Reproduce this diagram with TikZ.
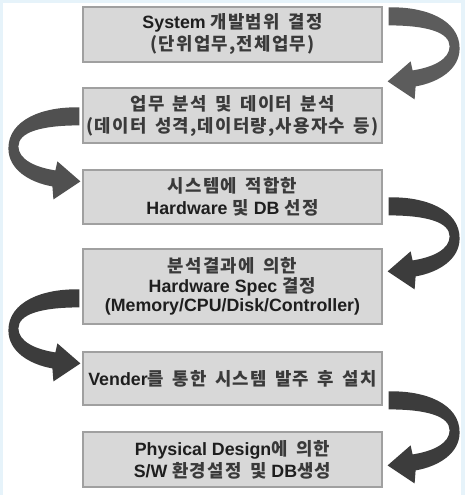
\documentclass[tikz,border=0pt]{standalone}
\usepackage{fontspec}
\setmainfont{Liberation Sans}
\newfontfamily\kr[WordSpace=1.6,LetterSpace=7]{Noto Sans CJK KR}
\usetikzlibrary{calc}
\definecolor{boxfill}{HTML}{D8D8D8}
\definecolor{boxline}{HTML}{A0A0A0}
\definecolor{bgblue}{HTML}{E6F3FA}
\definecolor{txt}{HTML}{1E1E1E}
\definecolor{krtxt}{HTML}{3A3A3A}
\definecolor{arrA}{HTML}{5C5C5C}
\definecolor{arrB}{HTML}{505050}
\definecolor{arrC}{HTML}{3C3C3C}
\newcommand\K[1]{{\kr\bfseries\color{krtxt}#1}}
\begin{document}
\begin{tikzpicture}[x=1pt,y=-1pt,
  stepbox/.style={draw=boxline, fill=boxfill, line width=1.2pt,
    minimum width=299pt, inner sep=0pt, align=center, text=txt,
    font=\bfseries\fontsize{17.8}{22}\selectfont},
  curl/.pic={\fill[#1] (6,0) .. controls (42,-1) and (77,12) .. (77,41)
     .. controls (77,62) and (56,75) .. (33,79) -- (32,92) -- (5,74)
     -- (28,54) -- (30,63) .. controls (50,60) and (67,52) .. (67,39)
     .. controls (67,25) and (45,18) .. (6,18) -- cycle;}]
\useasboundingbox (0,0) rectangle (465,495);
\fill[bgblue] (0,0) rectangle (465,495);
\fill[white] (3,3) rectangle (461,495);

\node[stepbox, minimum height=55pt] (b1) at (232.5,34.5)
  {System \K{개발범위 결정}\\\K{(단위업무,전체업무)}};
\node[stepbox, minimum height=55pt] (b2) at (232.5,115.5)
  {\K{업무 분석 및 데이터 분석}\\\K{(데이터 성격,데이터량,사용자수 등)}};
\node[stepbox, minimum height=54pt] (b3) at (232.5,197)
  {\K{시스템에 적합한}\\Hardware \K{및} DB \K{선정}};
\node[stepbox, minimum height=75pt, font=\bfseries\fontsize{17.8}{19.5}\selectfont] (b4) at (232.5,286.5)
  {\K{분석결과에 의한}\\Hardware Spec \K{결정}\\(Memory/CPU/Disk/Controller)};
\node[stepbox, minimum height=53pt] (b5) at (232.5,378.5)
  {Vender\K{를 통한 시스템 발주 후 설치}};
\node[stepbox, minimum height=55pt] (b6) at (232.5,459.5)
  {Physical Design\K{에 의한}\\S/W \K{환경설정 및} DB\K{생성}};

\pic at ($(b1.north east)+(0,1)$) {curl=arrA};
\pic[xscale=-1] at ($(b2.north west)+(3,20)$) {curl=arrB};
\pic at ($(b3.north east)+(0,28)$) {curl=arrC};
\pic[xscale=-1] at ($(b4.north west)+(3,41)$) {curl=arrC};
\pic at ($(b5.north east)+(0,40)$) {curl=arrC};
\end{tikzpicture}
\end{document}
